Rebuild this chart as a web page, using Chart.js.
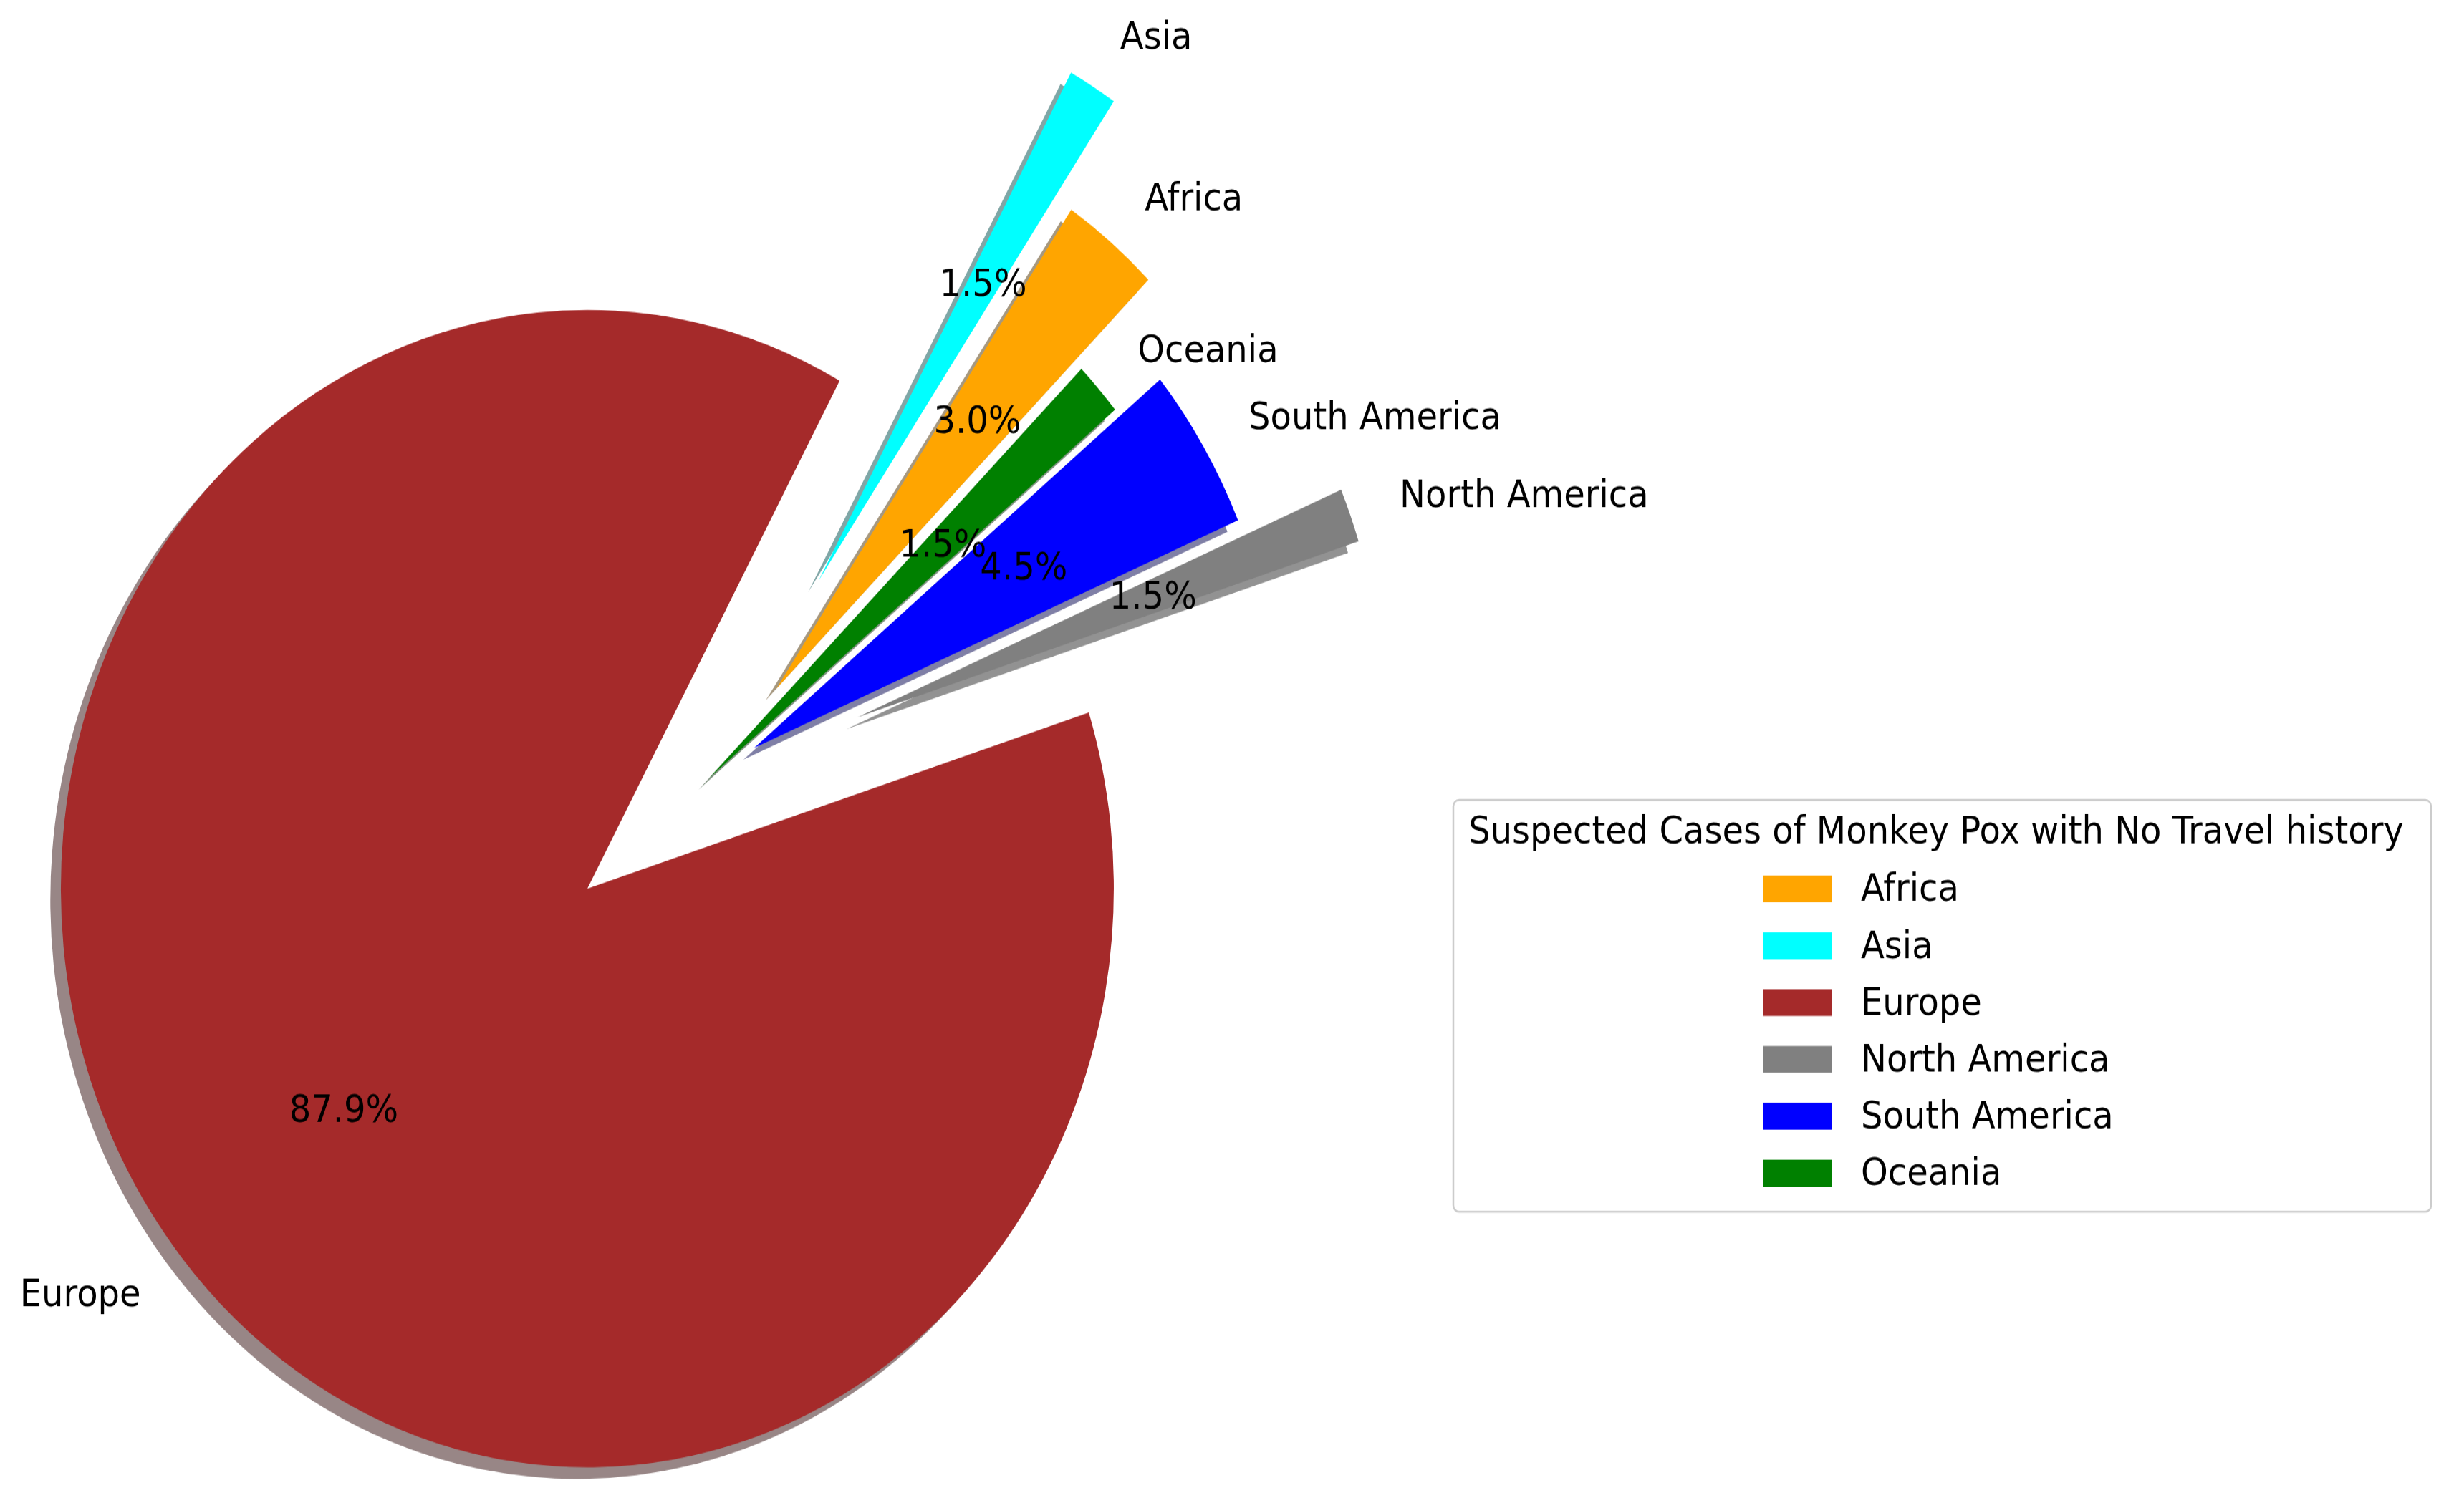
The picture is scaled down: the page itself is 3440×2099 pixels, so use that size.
<!DOCTYPE html>
<html>
<head>
<meta charset="utf-8">
<script src="https://cdn.jsdelivr.net/npm/chart.js@4.4.1/dist/chart.umd.min.js"></script>
<style>
  html, body { margin: 0; padding: 0; background: #ffffff; overflow: hidden; }
  #c { display: block; width: 3440px; height: 2099px; }
</style>
</head>
<body>
<canvas id="c" width="3440" height="1909" style="width:3440px;height:2099px"></canvas>
<script>
// ---- data ----
const categories = ['Africa', 'Asia', 'Europe', 'North America', 'South America', 'Oceania'];
const cases = [2, 1, 58, 1, 3, 1];
const sliceColors = ['#ffa500', '#00ffff', '#a52a2a', '#808080', '#0000ff', '#008000'];
const explodeFractions = [0.2, 0.4, 0.3, 0.3, 0.1, 0.0];
const legendTitle = 'Suspected Cases of Monkey Pox with No Travel history';

// ---- helpers ----
const FONT = '48px "DejaVu Sans"';
const TEXT_DY = 3;
const total = cases.reduce((a, b) => a + b, 0);
// matplotlib draws counter-clockwise; Chart.js draws clockwise -> reverse order
const drawOrder = categories.map((_, i) => categories.length - 1 - i);

function shade(hex) {
  const n = parseInt(hex.slice(1), 16);
  const r = (n >> 16) & 255, g = (n >> 8) & 255, b = n & 255;
  return `rgba(${(r * 0.3).toFixed(1)},${(g * 0.3).toFixed(1)},${(b * 0.3).toFixed(1)},0.5)`;
}

const pieExtras = {
  id: 'pieExtras',
  beforeDatasetsDraw(chart) {
    const ctx = chart.ctx;
    const meta = chart.getDatasetMeta(0);
    // shadows first (behind every wedge)
    meta.data.forEach((arc, j) => {
      const k = drawOrder[j];
      const r = arc.outerRadius;
      const mid = (arc.startAngle + arc.endAngle) / 2;
      const off = explodeFractions[k] * r;
      const cx = arc.x + Math.cos(mid) * off - 0.02 * r;
      const cy = arc.y + Math.sin(mid) * off + 0.02 * r;
      ctx.save();
      ctx.fillStyle = shade(sliceColors[k]);
      ctx.beginPath();
      ctx.moveTo(cx, cy);
      ctx.arc(cx, cy, r, arc.startAngle, arc.endAngle);
      ctx.closePath();
      ctx.fill();
      ctx.restore();
      if (!arc.$exploded) {
        const baseDraw = arc.draw;
        arc.draw = function (c, area) {
          const m = (this.startAngle + this.endAngle) / 2;
          const o = explodeFractions[k] * this.outerRadius;
          c.save();
          c.translate(Math.cos(m) * o, Math.sin(m) * o);
          baseDraw.call(this, c, area);
          c.restore();
        };
        arc.$exploded = true;
      }
    });
  },
  afterDatasetsDraw(chart) {
    const ctx = chart.ctx;
    const meta = chart.getDatasetMeta(0);
    ctx.save();
    ctx.font = FONT;
    ctx.fillStyle = '#000000';
    ctx.textBaseline = 'middle';
    meta.data.forEach((arc, j) => {
      const k = drawOrder[j];
      const r = arc.outerRadius;
      const mid = (arc.startAngle + arc.endAngle) / 2;
      const off = explodeFractions[k] * r;
      const cx = arc.x + Math.cos(mid) * off;
      const cy = arc.y + Math.sin(mid) * off;
      ctx.textAlign = Math.cos(mid) > 0 ? 'left' : 'right';
      ctx.fillText(categories[k], cx + Math.cos(mid) * 1.1 * r, cy + Math.sin(mid) * 1.1 * r + TEXT_DY);
      ctx.textAlign = 'center';
      const pct = (cases[k] / total * 100).toFixed(1) + '%';
      ctx.fillText(pct, cx + Math.cos(mid) * 0.6 * r, cy + Math.sin(mid) * 0.6 * r + TEXT_DY);
    });
    ctx.restore();
  },
  afterDraw(chart) {
    const ctx = chart.ctx;
    ctx.save();
    // frame
    const x0 = 2029, y0 = 1016, x1 = 3394, y1 = 1539, rr = 8;
    ctx.beginPath();
    ctx.roundRect(x0, y0, x1 - x0, y1 - y0, rr);
    ctx.fillStyle = 'rgba(255,255,255,0.8)';
    ctx.fill();
    ctx.lineWidth = 2.5;
    ctx.strokeStyle = '#cccccc';
    ctx.stroke();
    // title
    ctx.font = FONT;
    ctx.fillStyle = '#000000';
    ctx.textBaseline = 'middle';
    ctx.textAlign = 'center';
    ctx.fillText(legendTitle, 2703, 1056 + TEXT_DY);
    // entries
    ctx.textAlign = 'left';
    categories.forEach((name, i) => {
      const y = 1129 + i * 72.2;
      ctx.fillStyle = sliceColors[i];
      ctx.fillRect(2462, y - 17, 96, 34);
      ctx.fillStyle = '#000000';
      ctx.fillText(name, 2598, y + TEXT_DY);
    });
    ctx.restore();
  }
};

new Chart(document.getElementById('c'), {
  type: 'pie',
  data: {
    labels: drawOrder.map(k => categories[k]),
    datasets: [{
      data: drawOrder.map(k => cases[k]),
      backgroundColor: drawOrder.map(k => sliceColors[k]),
      borderWidth: 0,
      radius: 735,
      rotation: 45
    }]
  },
  options: {
    responsive: false,
    maintainAspectRatio: false,
    devicePixelRatio: 1,
    animation: false,
    events: [],
    layout: { padding: { left: 0, right: 1460, top: 67.6, bottom: 0 } },
    plugins: {
      legend: { display: false },
      tooltip: { enabled: false },
      title: { display: false }
    }
  },
  plugins: [pieExtras]
});
</script>
</body>
</html>
